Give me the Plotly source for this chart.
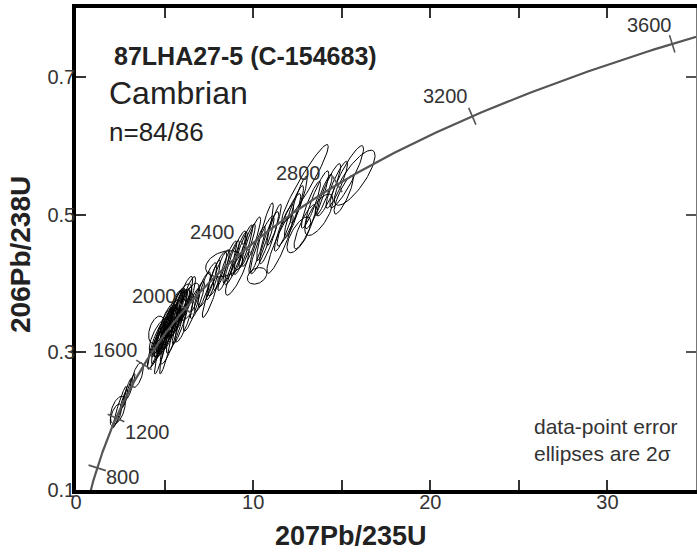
import numpy as np
import plotly.graph_objects as go

# U decay constants (1/yr)
L238 = 1.55125e-10
L235 = 9.8485e-10

# concordia age marks (Ma)
tick_ages = [800, 1200, 1600, 2000, 2400, 2800, 3200, 3600]

# analyses: 207Pb/235U, 206Pb/238U, 2-sigma errors and error correlation
x_ratio = [2.36, 2.47, 2.25, 2.87, 3.09, 3.48, 2.70,
           4.44, 4.55, 4.61, 4.72, 4.72, 4.83, 4.89, 4.94, 5.00, 5.06,
           5.11, 5.17, 5.22, 5.28, 5.34, 5.39, 5.45, 5.51, 5.56, 5.62,
           5.67, 5.73, 5.79, 5.84, 5.96, 6.01, 6.07, 6.18, 6.29, 6.40,
           4.55, 4.83, 5.06, 5.28, 5.56, 5.84, 6.12, 6.52,
           8.37, 7.58, 6.85, 7.13, 7.42, 7.75, 7.98, 8.20, 8.54, 8.76,
           8.99, 9.21, 9.44, 9.10, 9.66, 9.89, 10.22,
           10.22, 10.51, 10.90, 11.52, 11.18, 11.74, 12.02, 12.30, 12.92, 12.92,
           13.26, 13.60, 13.71, 13.99, 14.27, 14.72, 15.11, 15.28, 15.73, 12.58,
           10.67, 12.58]
y_ratio = [0.216, 0.2206, 0.209, 0.241, 0.251, 0.267, 0.231,
           0.3035, 0.3108, 0.318, 0.3137, 0.3238, 0.3209, 0.3282, 0.318, 0.3326, 0.3253,
           0.3384, 0.3311, 0.3442, 0.3355, 0.350, 0.3413, 0.3544, 0.3471, 0.3587, 0.350,
           0.3645, 0.3558, 0.3689, 0.3602, 0.3733, 0.3645, 0.3762, 0.3703, 0.3791, 0.3733,
           0.3326, 0.3035, 0.3006, 0.318, 0.3297, 0.3398, 0.350, 0.3616,
           0.4285, 0.3805, 0.3762, 0.3878, 0.398, 0.4052, 0.414, 0.4198, 0.4256, 0.4314,
           0.4372, 0.443, 0.4488, 0.4169, 0.4547, 0.4605, 0.411,
           0.4488, 0.4561, 0.4663, 0.4576, 0.4852, 0.4808, 0.4924, 0.5041, 0.4823, 0.5448,
           0.5142, 0.5215, 0.4997, 0.5288, 0.536, 0.5433, 0.5288, 0.555, 0.5535, 0.4706,
           0.475, 0.5215]
x_err = [0.42, 0.38, 0.32, 0.26, 0.24, 0.32, 0.21,
         0.40, 0.52, 0.34, 0.46, 0.58, 0.42, 0.50, 0.36, 0.46, 0.56,
         0.40, 0.52, 0.34, 0.46, 0.58, 0.38, 0.50, 0.34, 0.46, 0.60,
         0.40, 0.52, 0.36, 0.46, 0.58, 0.40, 0.52, 0.34, 0.46, 0.56,
         0.45, 0.40, 0.34, 0.52, 0.46, 0.40, 0.52, 0.46,
         1.05, 0.45, 0.40, 0.46, 0.53, 0.40, 0.53, 0.46, 0.53, 0.46,
         0.60, 0.46, 0.53, 0.66, 0.46, 0.53, 0.55,
         0.46, 0.67, 0.54, 0.74, 0.41, 0.54, 0.67, 0.54, 0.61, 1.32,
         0.54, 0.67, 0.80, 0.47, 0.67, 0.61, 0.54, 0.95, 1.15, 0.67,
         0.47, 0.47]
y_err = [0.020, 0.030, 0.016, 0.021, 0.018, 0.018, 0.015,
         0.028, 0.035, 0.025, 0.031, 0.026, 0.028, 0.035, 0.025, 0.031, 0.027,
         0.028, 0.034, 0.025, 0.031, 0.026, 0.029, 0.035, 0.025, 0.031, 0.027,
         0.028, 0.035, 0.024, 0.031, 0.026, 0.028, 0.034, 0.025, 0.031, 0.027,
         0.020, 0.035, 0.032, 0.035, 0.031, 0.028, 0.035, 0.031,
         0.019, 0.030, 0.027, 0.029, 0.032, 0.029, 0.032, 0.029, 0.036, 0.031,
         0.039, 0.032, 0.036, 0.034, 0.032, 0.036, 0.012,
         0.034, 0.042, 0.038, 0.043, 0.030, 0.034, 0.038, 0.038, 0.032, 0.057,
         0.034, 0.042, 0.030, 0.030, 0.038, 0.034, 0.028, 0.045, 0.040, 0.026,
         0.042, 0.034]
rho = [0.5, 0.95, 0.6, 0.93, 0.9, 0.6, 0.9,
       0.88, 0.85, 0.9, 0.87, 0.7, 0.88, 0.85, 0.9, 0.87, 0.7,
       0.88, 0.85, 0.9, 0.87, 0.7, 0.88, 0.85, 0.9, 0.87, 0.7,
       0.88, 0.85, 0.9, 0.87, 0.7, 0.88, 0.85, 0.9, 0.87, 0.7,
       0.4, 0.92, 0.9, 0.85, 0.87, 0.88, 0.85, 0.87,
       0.3, 0.9, 0.85, 0.85, 0.85, 0.9, 0.85, 0.85, 0.9, 0.9,
       0.9, 0.9, 0.9, 0.85, 0.9, 0.9, 0.3,
       0.9, 0.9, 0.9, 0.9, 0.9, 0.9, 0.9, 0.9, 0.85, 0.95,
       0.9, 0.9, 0.7, 0.9, 0.9, 0.9, 0.85, 0.9, 0.8, 0.7,
       0.9, 0.9]

W, H = 697, 555
M = dict(l=76, r=1, t=8, b=65)
XR = [0, 35]
YR = [0.1, 0.8]
PW = W - M["l"] - M["r"]
PH = H - M["t"] - M["b"]
kx = PW / (XR[1] - XR[0])
ky = PH / (YR[1] - YR[0])
TXT = "#333333"
DARK = "#222222"
FONT = "Liberation Sans, Arial, sans-serif"


def concordia(age_ma):
    t = np.asarray(age_ma, dtype=float) * 1e6
    return np.exp(L235 * t) - 1, np.exp(L238 * t) - 1


def px_to_paper(px, py):
    return (px - M["l"]) / PW, (H - M["b"] - py) / PH


fig = go.Figure()

# error ellipses
th = np.linspace(0, 2 * np.pi, 72)
ex, ey = [], []
for x0, y0, a, b, r in zip(x_ratio, y_ratio, x_err, y_err, rho):
    ex += list(x0 + a * np.cos(th)) + [None]
    ey += list(y0 + b * (r * np.cos(th) + np.sqrt(1 - r * r) * np.sin(th))) + [None]
fig.add_trace(go.Scatter(x=ex, y=ey, mode="lines", line=dict(color="black", width=1),
                         hoverinfo="skip"))

# concordia curve
cx, cy = concordia(np.arange(0, 4001, 10))
fig.add_trace(go.Scatter(x=cx, y=cy, mode="lines", line=dict(color="#555555", width=2.2),
                         hoverinfo="skip"))

# age ticks across the curve
tx, ty = concordia(tick_ages)
t_s = np.array(tick_ages) * 1e6
dxp = L235 * np.exp(L235 * t_s) * kx
dyp = L238 * np.exp(L238 * t_s) * ky
angles = -np.degrees(np.arctan2(dyp, dxp))
fig.add_trace(go.Scatter(x=tx, y=ty, mode="markers",
                         marker=dict(symbol="line-ns", size=13, angle=angles,
                                     line=dict(color="#555555", width=1.6)),
                         hoverinfo="skip"))

label_shift = {800: (25, -9), 1200: (31, -14), 1600: (-28, 15), 2000: (-31, 12),
               2400: (-34, 16), 2800: (-39, 11), 3200: (-27, 20), 3600: (-23, 19)}
for age, x0, y0 in zip(tick_ages, tx, ty):
    sx, sy = label_shift[age]
    fig.add_annotation(x=x0, y=y0, text=str(age), showarrow=False, xshift=sx, yshift=sy,
                       font=dict(size=20, color=TXT, family=FONT))


def note(px, py, text, size, color=DARK, **kw):
    ax, ay = px_to_paper(px, py)
    fig.add_annotation(x=ax, y=ay, xref="paper", yref="paper", showarrow=False,
                       text=text, font=dict(size=size, color=color, family=FONT), **kw)


# sample text
note(112, 56, "<b>87LHA27-5 (C-154683)</b>", 25, xanchor="left", yanchor="middle")
note(107, 93, "Cambrian", 32, xanchor="left", yanchor="middle")
note(107, 132, "n=84/86", 26, xanchor="left", yanchor="middle")
note(532, 440, "data-point error<br>ellipses are 2σ", 21, color=TXT,
     xanchor="left", yanchor="middle", align="left")

# axis titles
note(351, 536, "<b>207Pb/235U</b>", 27, yanchor="middle")
note(21, 255, "<b>206Pb/238U</b>", 28, textangle=-90, xanchor="center", yanchor="middle")

fig.update_layout(template="none", width=W, height=H, margin=M, showlegend=False,
                  plot_bgcolor="white", paper_bgcolor="white",
                  font=dict(family=FONT, color=TXT, size=20))
fig.update_xaxes(range=XR, tickvals=[0, 5, 10, 15, 20, 25, 30, 35],
                 ticktext=["0", "", "10", "", "20", "", "30", ""],
                 ticks="inside", ticklen=10, tickwidth=2, tickcolor="#333333",
                 showline=True, linewidth=3.5, linecolor="black", mirror="ticks",
                 showgrid=False, zeroline=False, automargin=False,
                 ticklabelstandoff=-9, tickfont=dict(size=20, color=TXT))
fig.update_yaxes(range=YR, tickvals=[0.1, 0.3, 0.5, 0.7], ticktext=["0.1", "0.3", "0.5", "0.7"],
                 ticks="inside", ticklen=10, tickwidth=2, tickcolor="#333333",
                 showline=True, linewidth=3.5, linecolor="black", mirror=False,
                 showgrid=False, zeroline=False, automargin=False,
                 ticklabelstandoff=-7, tickfont=dict(size=20, color=TXT))
# thin right-hand frame
fig.update_layout(yaxis2=dict(overlaying="y", side="right", range=YR, tickvals=[0.1, 0.3, 0.5, 0.7],
                              ticks="inside", ticklen=10, tickwidth=1.5, tickcolor="#555555",
                              showticklabels=False, showline=True, linewidth=1, linecolor="#777777",
                              showgrid=False, zeroline=False, automargin=False))
fig.add_trace(go.Scatter(x=[None], y=[None], yaxis="y2", hoverinfo="skip"))

fig.write_html("out.html", config={"displayModeBar": False},
               post_script="document.body.style.margin='0';")
